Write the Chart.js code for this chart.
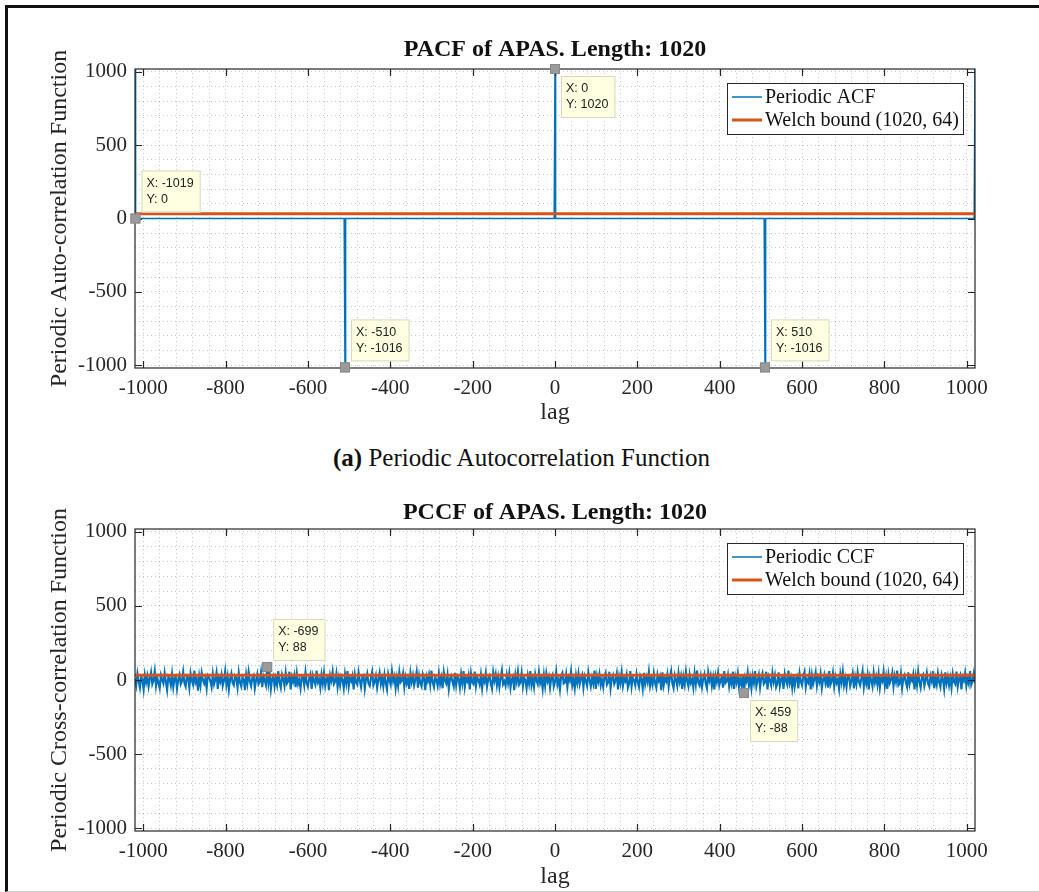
<!DOCTYPE html>
<html>
<head>
<meta charset="UTF-8">
<title>PACF / PCCF of APAS</title>
<script src="https://cdn.jsdelivr.net/npm/chart.js"></script>
<style>
  body { margin: 0; background: #fff; }
  #page { position: relative; width: 1039px; height: 892px; overflow: hidden; }
  #frame { position: absolute; left: 5px; top: 5px; width: 1040px; height: 883px;
           border-left: 3px solid #111; border-top: 3px solid #111; border-bottom: 1px solid #ccc; }
  canvas { position: absolute; left: 0; }
  #caption { position: absolute; top: 444px; left: 0; width: 1043px; text-align: center;
             font-family: "Liberation Serif", serif; font-size: 25px; color: #111; }
</style>
</head>
<body>
<div id="page">
  <div id="frame"></div>
  <canvas id="acfChart" width="1039" height="440" style="top:0"></canvas>
  <div id="caption"><b>(a)</b> Periodic Autocorrelation Function</div>
  <canvas id="ccfChart" width="1039" height="422" style="top:470px"></canvas>
</div>

<script>
// ---- data ----
var seqLength = 1020;
var welchBound = 31.7;   // red line, (1020, 64)

// periodic ACF: zero everywhere except these lags
var acfPeakLags = [-1020, -510, 0, 510, 1020];
var acfPeakValues = [1020, -1016, 1020, -1016, 1020];

// periodic CCF, read every 3rd lag starting at -1020
var ccfStartLag = -1020;
var ccfLagStep = 3;
var ccfValues = [
  12, -36, 44, -8, -52, 20, 4, -64, 36, -16, 28, -44, 8, 52, -28, -4, 60, -40, 16, -20,
  -56, 32, 0, -24, 48, -12, -68, 24, 8, -36, 40, -48, 12, 20, -60, 4, 36, -28, -8, 56,
  -20, -44, 28, 16, -52, 44, -4, -32, 64, -16, 8, -72, 24, -36, 48, 0, -24, 12, -56, 32,
  20, -8, -48, 40, -28, 4, 52, -60, 16, -12, 36, -40, -4, 60, -32, 24, -64, 8, 44, -20,
  -36, 28, 12, -52, 48, -16, -44, 20, 4, -68, 36, -24, 56, -8, -40, 16, 32, -56, 0, 40,
  -28, -12, 52, -48, 24, -4, -36, 88, -20, 44, -60, 8, 28, -44, 12, -32, 60, -16, -52, 36,
  4, -40, 48, -24, -8, 56, -64, 20, -12, 32, -48, 44, -28, 0, -56, 24, 16, -36, 52, -20,
  -44, 12, 40, -60, 28, -8, -32, 64, -16, 4, -52, 36, -24, 48, -40, 8, 20, -68, 32, -4,
  56, -28, -12, 44, -48, 16, -36, 24, 0, -56, 40, -20, 60, -44, 12, -8, 28, -64, 36, -16,
  -32, 52, -4, -48, 20, 32, -60, 8, 44, -24, -40, 16, 56, -36, -12, 28, -52, 4, 48, -28,
  12, -44, 36, -20, -64, 40, 0, -32, 60, -8, 24, -56, 16, -40, 52, -16, -4, 44, -48, 20,
  -24, 8, -60, 48, -12, 32, -36, 4, 56, -52, 28, -20, -44, 40, 12, -68, 24, -8, 36, -32,
  64, -16, -48, 20, 0, -40, 44, -28, 16, -56, 52, -4, -24, 36, -60, 8, 28, -12, -44, 48,
  -36, 24, 4, -52, 40, -20, 60, -48, 12, -8, 32, -64, 44, -16, -28, 56, -40, 20, 0, -32,
  36, -56, 16, -12, 48, -44, 8, 28, -24, -60, 52, -4, 40, -36, 20, -48, 12, 64, -28, -8,
  -40, 32, -20, 44, -52, 4, 24, -68, 36, -12, 56, -32, -16, 48, -44, 16, 0, -56, 28, -24,
  60, -36, 8, -48, 40, -4, -28, 52, -20, 12, -60, 32, -40, 44, -8, 24, -52, 16, 36, -44,
  -12, 56, -32, 4, -64, 28, 48, -24, -16, 40, -48, 20, -4, 60, -36, 8, -56, 32, -20, 44,
  -28, 12, 36, -52, 24, -8, -40, 52, 0, -44, 16, -24, 64, -60, 28, -12, 40, -36, 4, -48,
  20, 48, -32, -16, 56, -56, 8, 32, -28, -4, 44, -64, 24, -20, 52, -40, 12, -8, 36, -52,
  -24, 60, -44, 16, 0, -36, 40, -12, -48, 28, 4, -60, 48, -28, 20, -16, 56, -40, 8, -32,
  44, -20, -52, 36, -4, 24, -68, 52, -36, 12, -8, 40, -44, 16, 60, -24, -56, 32, 0, -40,
  48, -12, 28, -60, 20, -32, 56, -8, -44, 36, -20, 4, -52, 44, -28, 64, -16, -36, 24, -48,
  8, 40, -24, -56, 52, -4, 32, -40, 16, -64, 28, -12, 48, -36, 0, 20, -52, 60, -20, -8,
  36, -44, 12, -28, 56, -60, 24, -16, 44, -48, 4, -32, 40, -88, 20, -8, 52, -36, 16, -56,
  28, -20, 60, -44, -4, 36, -52, 12, 44, -28, -16, 56, -64, 24, 0, -36, 48, -12, 32, -48,
  -24, 52, -40, 8, 20, -60, 40, -4, -32, 64, -20, 16, -52, 36, -44, 12, 28, -56, 44, -8,
  -36, 24, 56, -48, 4, -16, 40, -64, 32, -28, 8, 52, -40, 20, -12, 44, -56, 0, 36, -24,
  16, -52, 60, -32, -8, 48, -44, 24, -20, 4, -60, 40, -16, 56, -36, 12, -48, 28, 32, -40,
  -4, 44, -56, 20, -28, 52, -12, -36, 8, 60, -48, 16, -24, 36, -64, 28, 0, -44, 48, -16,
  24, -32, 40, -52, 12, -8, 56, -40, 20, -60, 36, -20, 4, 48, -44, 28, -12, 64, -36, -24,
  44, -56, 8, 32, -16, -48, 52, -28, 16, -4, 40, -64, 24, -36, 56, -12, -52, 20, 36, -40,
  0, 48, -24, -44, 28, -8, 60, -56, 12, -32, 44, -16, -48, 36, 4, -60, 52, -20, 24, -36,
  16, -52, 40, -12, -28, 56, -44, 8, 32, -64, 20, -4, 48, -40, 12, -24, 60, -32, -8, 44,
  -20
];

// data tips shown on the figure
var acfTipLags = [-1019, 0, -510, 510];
var acfTipValues = [0, 1020, -1016, -1016];
var ccfTipLags = [-699, 459];
var ccfTipValues = [88, -88];

var xMajorTicks = [-1000, -800, -600, -400, -200, 0, 200, 400, 600, 800, 1000];
var yMajorTicks = [-1000, -500, 0, 500, 1000];

// ---- helpers ----
var BLUE = '#0072BD', RED = '#D95319', INK = '#262626';
var SERIF = '"Liberation Serif", "Times New Roman", serif';

var xGridTicks = [];
for (var v = -1000; v <= 1000; v += 40) xGridTicks.push(v);
var yGridTicks = [];
for (var w = -1000; w <= 1000; w += 100) yGridTicks.push(w);

var acfPoints = [];
for (var lag = -seqLength; lag <= seqLength; lag++) {
  var k = acfPeakLags.indexOf(lag);
  acfPoints.push({ x: lag, y: k >= 0 ? acfPeakValues[k] : 0 });
}
var ccfPoints = ccfValues.map(function (val, i) {
  return { x: ccfStartLag + i * ccfLagStep, y: val };
});
var welchPoints = [{ x: -seqLength, y: welchBound }, { x: seqLength, y: welchBound }];

// box, inward tick marks, legend and data tips, MATLAB style
var matlabFrame = {
  id: 'matlabFrame',
  afterDatasetsDraw: function (chart, args, opts) {
    var ctx = chart.ctx, a = chart.chartArea;
    var xs = chart.scales.x, ys = chart.scales.y;
    ctx.save();
    ctx.strokeStyle = INK;
    ctx.lineWidth = 1.2;
    ctx.strokeRect(a.left, a.top, a.right - a.left, a.bottom - a.top);
    ctx.beginPath();
    xMajorTicks.forEach(function (v) {
      var px = Math.round(xs.getPixelForValue(v)) + 0.5;
      ctx.moveTo(px, a.bottom); ctx.lineTo(px, a.bottom - 7);
      ctx.moveTo(px, a.top); ctx.lineTo(px, a.top + 7);
    });
    yMajorTicks.forEach(function (v) {
      var py = Math.round(ys.getPixelForValue(v)) + 0.5;
      ctx.moveTo(a.left, py); ctx.lineTo(a.left + 7, py);
      ctx.moveTo(a.right, py); ctx.lineTo(a.right - 7, py);
    });
    ctx.stroke();

    // legend
    var lx = a.right - 248, ly = a.top + 14;
    ctx.fillStyle = '#fff';
    ctx.fillRect(lx, ly, 236, 51);
    ctx.lineWidth = 1;
    ctx.strokeStyle = INK;
    ctx.strokeRect(lx + 0.5, ly + 0.5, 236, 51);
    ctx.font = '20px ' + SERIF;
    ctx.textBaseline = 'middle';
    chart.data.datasets.forEach(function (ds, i) {
      var ry = ly + 14 + i * 23;
      ctx.strokeStyle = ds.borderColor;
      ctx.lineWidth = i === 0 ? 1.5 : 3;
      ctx.beginPath(); ctx.moveTo(lx + 5, ry); ctx.lineTo(lx + 35, ry); ctx.stroke();
      ctx.fillStyle = '#111';
      ctx.fillText(ds.label, lx + 38, ry + 1);
    });

    // data tips
    ctx.font = '12.5px "Liberation Sans", Arial, sans-serif';
    opts.tipLags.forEach(function (lag, i) {
      var px = xs.getPixelForValue(lag), py = ys.getPixelForValue(opts.tipValues[i]);
      var lines = ['X: ' + lag, 'Y: ' + opts.tipValues[i]];
      var bw = Math.max(ctx.measureText(lines[0]).width, ctx.measureText(lines[1]).width) + 12;
      var bh = 42;
      var bx = px + 6;
      var by = opts.tipBelow[i] ? py + 7 : py - 6 - bh;
      ctx.fillStyle = '#FFFFE1';
      ctx.fillRect(bx, by, bw, bh);
      ctx.strokeStyle = '#d6d6c2';
      ctx.lineWidth = 1;
      ctx.strokeRect(bx + 0.5, by + 0.5, bw - 1, bh - 1);
      ctx.fillStyle = '#222';
      ctx.textBaseline = 'middle';
      ctx.fillText(lines[0], bx + 5, by + 13);
      ctx.fillText(lines[1], bx + 5, by + 29);
      ctx.fillStyle = '#9b9b9b';
      ctx.fillRect(px - 5, py - 5, 10, 10);
      ctx.strokeStyle = '#888';
      ctx.strokeRect(px - 4.5, py - 4.5, 9, 9);
    });
    ctx.restore();
  }
};

function makeChart(canvasId, cfg) {
  var grid = {
    color: 'rgba(0,0,0,0.22)',
    lineWidth: 1,
    drawTicks: false
  };
  var border = { display: false, dash: [1, 3] };
  return new Chart(document.getElementById(canvasId).getContext('2d'), {
    type: 'line',
    data: {
      datasets: [{
        label: cfg.seriesLabel,
        data: cfg.points,
        borderColor: BLUE,
        borderWidth: cfg.seriesWidth,
        pointRadius: 0,
        tension: 0,
        order: 1
      }, {
        label: 'Welch bound (1020, 64)',
        data: welchPoints,
        borderColor: RED,
        borderWidth: 3,
        pointRadius: 0,
        order: 0
      }]
    },
    plugins: [matlabFrame],
    options: {
      responsive: false,
      animation: false,
      events: [],
      layout: { padding: { left: 0, right: 64, top: 0, bottom: 0 } },
      plugins: {
        legend: { display: false },
        tooltip: { enabled: false },
        title: {
          display: true,
          fullSize: false,
          text: cfg.title,
          color: '#111',
          font: { family: SERIF, size: 24, weight: 'bold', lineHeight: 1.2 },
          padding: { top: cfg.titleTop, bottom: cfg.titleBottom }
        },
        matlabFrame: {
          tipLags: cfg.tipLags,
          tipValues: cfg.tipValues,
          tipBelow: cfg.tipBelow
        }
      },
      scales: {
        x: {
          type: 'linear',
          min: -seqLength,
          max: seqLength,
          grid: grid,
          border: border,
          afterBuildTicks: function (s) { s.ticks = xGridTicks.map(function (v) { return { value: v }; }); },
          afterFit: function (s) { s.height = cfg.xAxisHeight; },
          ticks: {
            autoSkip: false,
            maxRotation: 0,
            padding: 8,
            color: INK,
            font: { family: SERIF, size: 21 },
            callback: function (v) { return xMajorTicks.indexOf(v) >= 0 ? String(v) : ''; }
          },
          title: {
            display: true,
            text: 'lag',
            color: INK,
            font: { family: SERIF, size: 24, lineHeight: 1.2 },
            padding: { top: 0, bottom: cfg.lagPad }
          }
        },
        y: {
          type: 'linear',
          min: -seqLength,
          max: seqLength,
          grid: grid,
          border: border,
          afterBuildTicks: function (s) { s.ticks = yGridTicks.map(function (v) { return { value: v }; }); },
          afterFit: function (s) { s.width = 135; },
          ticks: {
            autoSkip: false,
            padding: 8,
            color: INK,
            font: { family: SERIF, size: 21 },
            callback: function (v) { return yMajorTicks.indexOf(v) >= 0 ? String(v) : ''; }
          },
          title: {
            display: true,
            text: cfg.yLabel,
            color: INK,
            font: { family: SERIF, size: 24, lineHeight: 1.2 },
            padding: { top: 45.6, bottom: 0 }
          }
        }
      }
    }
  });
}

makeChart('acfChart', {
  title: 'PACF of APAS. Length: 1020',
  yLabel: 'Periodic Auto-correlation Function',
  seriesLabel: 'Periodic ACF',
  seriesWidth: 1.5,
  points: acfPoints,
  titleTop: 35.6, titleBottom: 4.6,
  xAxisHeight: 72, lagPad: 12.6,
  tipLags: acfTipLags, tipValues: acfTipValues,
  tipBelow: [false, true, false, false]
});

makeChart('ccfChart', {
  title: 'PCCF of APAS. Length: 1020',
  yLabel: 'Periodic Cross-correlation Function',
  seriesLabel: 'Periodic CCF',
  seriesWidth: 2.1,
  points: ccfPoints,
  titleTop: 28.6, titleBottom: 1.6,
  xAxisHeight: 61, lagPad: 0.6,
  tipLags: ccfTipLags, tipValues: ccfTipValues,
  tipBelow: [false, true]
});
</script>
</body>
</html>
